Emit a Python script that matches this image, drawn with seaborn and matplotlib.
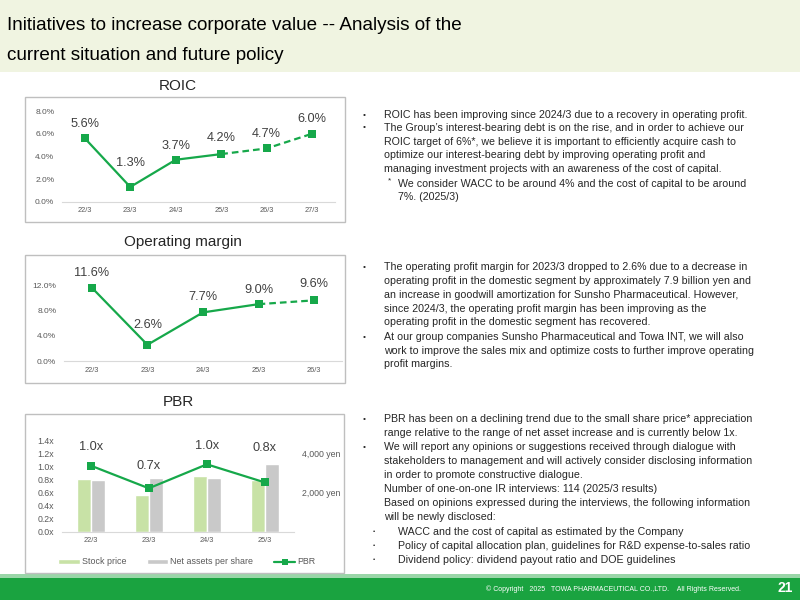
import matplotlib
matplotlib.use("Agg")
import numpy as np
import pandas as pd
import matplotlib.pyplot as plt
from matplotlib.patches import Rectangle, Patch
from matplotlib.lines import Line2D
import seaborn as sns

sns.set_style("white")
plt.rcParams["font.family"] = ["Liberation Sans", "DejaVu Sans"]

# ---- data ----
roic_periods = ["22/3", "23/3", "24/3", "25/3", "26/3", "27/3"]
roic_values = [5.6, 1.3, 3.7, 4.2, 4.7, 6.0]
roic_last_actual = 3          # 25/3, dashed after this point

om_periods = ["22/3", "23/3", "24/3", "25/3", "26/3"]
om_values = [11.6, 2.6, 7.7, 9.0, 9.6]
om_last_actual = 3

pbr_periods = ["22/3", "23/3", "24/3", "25/3"]
stock_price = [2700, 1850, 2850, 2630]
net_assets = [2630, 2730, 2730, 3450]
pbr_values = [1.02, 0.67, 1.04, 0.76]

# marks: "b" bullet, "" body, "n" footnote, "nc" footnote continuation, "s" sub bullet
roic_text = [
    ("b", "ROIC has been improving since 2024/3 due to a recovery in operating profit."),
    ("b", "The Group’s interest-bearing debt is on the rise, and in order to achieve our"),
    ("", "ROIC target of 6%*, we believe it is important to efficiently acquire cash to"),
    ("", "optimize our interest-bearing debt by improving operating profit and"),
    ("", "managing investment projects with an awareness of the cost of capital."),
    ("n", "We consider WACC to be around 4% and the cost of capital to be around"),
    ("nc", "7%. (2025/3)"),
]
om_text = [
    ("b", "The operating profit margin for 2023/3 dropped to 2.6% due to a decrease in"),
    ("", "operating profit in the domestic segment by approximately 7.9 billion yen and"),
    ("", "an increase in goodwill amortization for Sunsho Pharmaceutical. However,"),
    ("", "since 2024/3, the operating profit margin has been improving as the"),
    ("", "operating profit in the domestic segment has recovered."),
    ("b", "At our group companies Sunsho Pharmaceutical and Towa INT, we will also"),
    ("", "work to improve the sales mix and optimize costs to further improve operating"),
    ("", "profit margins."),
]
pbr_text = [
    ("b", "PBR has been on a declining trend due to the small share price* appreciation"),
    ("", "range relative to the range of net asset increase and is currently below 1x."),
    ("b", "We will report any opinions or suggestions received through dialogue with"),
    ("", "stakeholders to management and will actively consider disclosing information"),
    ("", "in order to promote constructive dialogue."),
    ("", "Number of one-on-one IR interviews: 114 (2025/3 results)"),
    ("", "Based on opinions expressed during the interviews, the following information"),
    ("", "will be newly disclosed:"),
    ("s", "WACC and the cost of capital as estimated by the Company"),
    ("s", "Policy of capital allocation plan, guidelines for R&D expense-to-sales ratio"),
    ("s", "Dividend policy: dividend payout ratio and DOE guidelines"),
]

GREEN = "#16A84A"
STOCK = "#C8E2A6"
NAPS = "#C9C9C9"
TICK = "#595959"
AXLINE = "#D9D9D9"
LABEL = "#404040"
TEXT = "#262626"
BODY_SIZE = 7.7

W, H = 800, 600
fig = plt.figure(figsize=(8, 6), dpi=100)


def fx(px):
    return px / W


def fy(py):
    return 1 - py / H


def box(l, t, r, b):
    return [fx(l), fy(b), fx(r) - fx(l), fy(t) - fy(b)]


def frame(l, t, r, b):
    fig.patches.append(Rectangle((fx(l), fy(b)), fx(r) - fx(l), fy(t) - fy(b),
                                 transform=fig.transFigure, fill=False,
                                 edgecolor="#BFBFBF", lw=1))


def style_axis(ax, n):
    for s in ["top", "right", "left"]:
        ax.spines[s].set_visible(False)
    ax.spines["bottom"].set_color(AXLINE)
    ax.set_xlim(-0.5, n - 0.5)
    ax.set_xticks(np.arange(n))
    ax.set_xticks(np.arange(-0.5, n), minor=True)
    ax.tick_params(axis="x", which="major", length=0, pad=4, labelsize=5.3, labelcolor=TICK)
    ax.tick_params(axis="x", which="minor", length=3, color=AXLINE)
    ax.tick_params(axis="y", length=0, pad=5.5, labelsize=6.0, labelcolor=TICK)
    ax.set_xlabel("")
    ax.set_ylabel("")
    ax.patch.set_visible(False)


def trend(ax, periods, values, last_actual):
    df = pd.DataFrame({"pos": np.arange(len(periods)), "val": values})
    sns.lineplot(data=df.iloc[:last_actual + 1], x="pos", y="val", ax=ax, color=GREEN,
                 lw=1.6, marker="s", markersize=5.5, markeredgewidth=0)
    sns.lineplot(data=df.iloc[last_actual:], x="pos", y="val", ax=ax, color=GREEN,
                 lw=1.6, linestyle=(0, (3, 1.8)), marker="s", markersize=5.5,
                 markeredgewidth=0)


def value_labels(ax, values, dy, fmt):
    for i, v in enumerate(values):
        ax.annotate(fmt.format(v), (i, v), xytext=(0, dy[i] * 0.72), textcoords="offset points",
                    ha="center", va="center", fontsize=9.2, color=LABEL, annotation_clip=False)


# ---- header / footer ----
fig.patches.append(Rectangle((0, fy(72)), 1, 72 / H, transform=fig.transFigure,
                             facecolor="#F0F4E1", edgecolor="none", zorder=0))
fig.text(fx(7), fy(30.5), "Initiatives to increase corporate value -- Analysis of the",
         fontsize=13.6, color="black", va="baseline")
fig.text(fx(7), fy(60), "current situation and future policy",
         fontsize=13.6, color="black", va="baseline")

fig.patches.append(Rectangle((0, fy(578)), 1, 4 / H, transform=fig.transFigure,
                             facecolor="#9AD6A8", edgecolor="none"))
fig.patches.append(Rectangle((0, 0), 1, 22 / H, transform=fig.transFigure,
                             facecolor="#1AA340", edgecolor="none"))
fig.text(fx(613), fy(589), "© Copyright   2025   TOWA PHARMACEUTICAL CO.,LTD.    All Rights Reserved.",
         fontsize=5, color="white", ha="center", va="center")
fig.text(fx(785), fy(588.5), "21", fontsize=10, fontweight="bold", color="white",
         ha="center", va="center")

# ---- ROIC ----
frame(24.5, 97, 345, 222)
fig.text(fx(178), fy(86), "ROIC", fontsize=11, color=TEXT, ha="center", va="center")
ax1 = fig.add_axes(box(62, 111, 335, 201.7))
trend(ax1, roic_periods, roic_values, roic_last_actual)
ax1.set_ylim(0, 8)
ax1.set_yticks([0, 2, 4, 6, 8])
ax1.set_yticklabels([f"{v:.1f}%" for v in [0, 2, 4, 6, 8]])
style_axis(ax1, len(roic_periods))
ax1.set_xticklabels(roic_periods)
value_labels(ax1, roic_values, [14, 24, 14, 16, 14, 15], "{:.1f}%")

# ---- Operating margin ----
frame(24.5, 254.5, 345, 383)
fig.text(fx(183), fy(242), "Operating margin", fontsize=11, color=TEXT, ha="center", va="center")
ax2 = fig.add_axes(box(64, 272.4, 342, 361.3))
trend(ax2, om_periods, om_values, om_last_actual)
ax2.set_ylim(0, 14)
ax2.set_yticks([0, 4, 8, 12])
ax2.set_yticklabels([f"{v:.1f}%" for v in [0, 4, 8, 12]])
style_axis(ax2, len(om_periods))
ax2.set_xticklabels(om_periods)
value_labels(ax2, om_values, [15, 20, 15, 14, 16], "{:.1f}%")

# ---- PBR ----
frame(24.5, 414, 344, 573)
fig.text(fx(178), fy(402), "PBR", fontsize=11, color=TEXT, ha="center", va="center")
ax3 = fig.add_axes(box(61.7, 441, 294, 531.7))
bars = pd.DataFrame({
    "period": pbr_periods * 2,
    "yen": stock_price + net_assets,
    "series": ["Stock price"] * len(pbr_periods) + ["Net assets per share"] * len(pbr_periods),
})
sns.barplot(data=bars, x="period", y="yen", hue="series", palette=[STOCK, NAPS],
            width=0.48, saturation=1, legend=False, ax=ax3)
ax3l = ax3.twinx()
pbr_df = pd.DataFrame({"pos": np.arange(len(pbr_periods)), "pbr": pbr_values})
sns.lineplot(data=pbr_df, x="pos", y="pbr", ax=ax3l, color=GREEN, lw=1.6,
             marker="s", markersize=5.5, markeredgewidth=0)
ax3.set_ylim(0, 4620)
ax3.set_yticks([2000, 4000])
ax3.set_yticklabels(["2,000 yen", "4,000 yen"])
ax3.yaxis.tick_right()
ax3l.yaxis.tick_left()
ax3l.set_ylim(0, 1.4)
ax3l.set_yticks(np.arange(0, 1.41, 0.2))
ax3l.set_yticklabels([f"{v:.1f}x" for v in np.arange(0, 1.41, 0.2)])
style_axis(ax3, len(pbr_periods))
style_axis(ax3l, len(pbr_periods))
ax3.tick_params(axis="y", labelsize=6.3, pad=5.8)
ax3l.tick_params(axis="y", labelsize=6.3)
ax3l.spines["bottom"].set_visible(False)
ax3.set_xticklabels(pbr_periods)
ax3l.tick_params(axis="x", which="both", labelbottom=False, length=0)
value_labels(ax3l, pbr_values, [19, 22, 18, 34], "{:.1f}x")

handles = [Patch(facecolor=STOCK, label="Stock price"),
           Patch(facecolor=NAPS, label="Net assets per share"),
           Line2D([], [], color=GREEN, lw=1.6, marker="s", markersize=4.5,
                  markeredgewidth=0, label="PBR")]
fig.legend(handles=handles, loc="center left", bbox_to_anchor=(fx(54), fy(562)),
           ncol=3, frameon=False, fontsize=6.4, handlelength=2.4, handleheight=0.55,
           handletextpad=0.25, columnspacing=2.3, borderpad=0, labelcolor=TICK)


# ---- commentary ----
def block(lines, ys):
    for (mark, line), y in zip(lines, ys):
        x = 384
        if mark == "b":
            fig.text(fx(363), fy(y), "•", fontsize=6, color=TEXT, va="center")
        elif mark == "n":
            fig.text(fx(388), fy(y - 3), "*", fontsize=6, color=TEXT, va="center")
            x = 398
        elif mark == "nc":
            x = 398
        elif mark == "s":
            fig.text(fx(373), fy(y), "•", fontsize=4.5, color=TEXT, va="center")
            x = 398
        fig.text(fx(x), fy(y), line, fontsize=BODY_SIZE, color=TEXT, va="center")


block(roic_text, [115, 128, 142, 155, 169, 184, 197])
block(om_text, [267, 281, 294.5, 308.5, 322, 337, 350.5, 364])
block(pbr_text, [419, 433, 447, 461, 475, 489, 503, 517, 532, 546, 560])

fig.savefig("out.png", dpi=100)
